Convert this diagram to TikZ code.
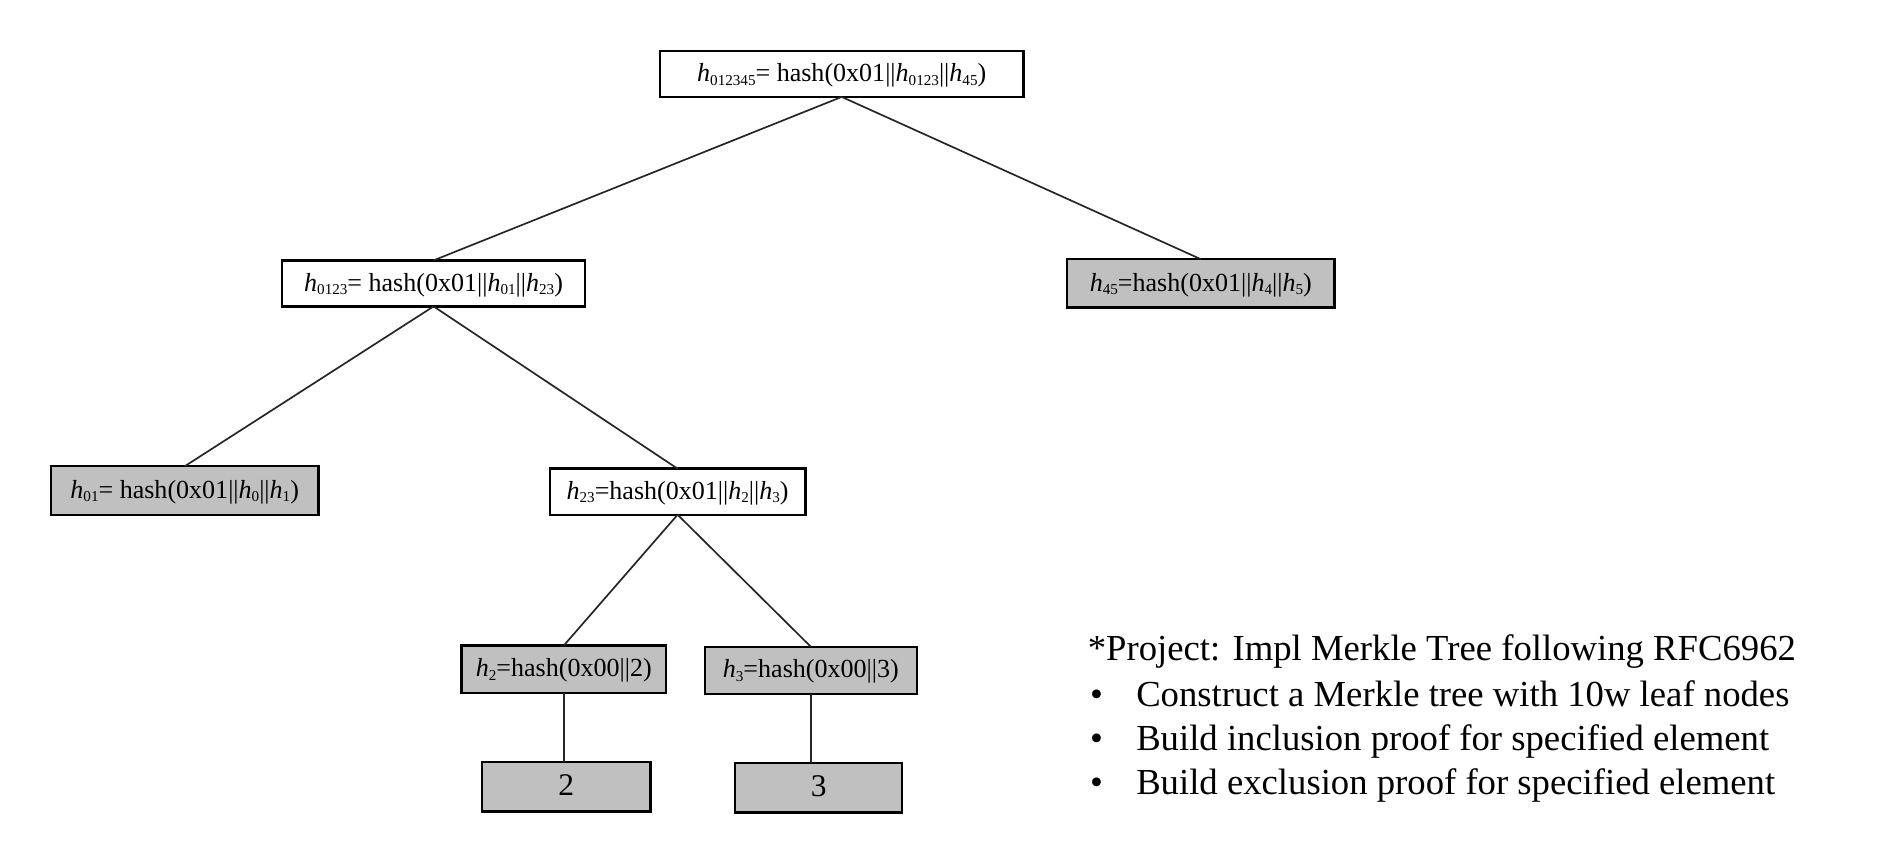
\documentclass[tikz,border=0pt]{standalone}
\usepackage{fontspec}
\setmainfont{Liberation Serif}
\newcommand\hsub[1]{\textit{h}\raisebox{-0.3ex}{\fontsize{12.5}{12.5}\selectfont #1}}
\begin{document}
\begin{tikzpicture}[x=1pt,y=-1pt,
  hbox/.style={draw=black,line width=2pt,inner sep=0pt,outer sep=0pt,
    font=\fontsize{21.5}{21.5}\selectfont,anchor=center,text depth=0.5ex},
  white/.style={hbox,fill=white},
  grey/.style={hbox,fill=boxgray},
  leafbox/.style={grey,font=\fontsize{26}{26}\selectfont},
  edge/.style={line width=1.4pt,draw=black!85},
  txt/.style={anchor=base west,inner sep=0pt,font=\fontsize{30.3}{30.3}\selectfont}]
\definecolor{boxgray}{HTML}{C0C0C0}
\useasboundingbox (0,0) rectangle (1568,694);
\node[white,minimum width=300,minimum height=38] (root) at (695,61)
  {\hsub{012345}= hash(0x01||\hsub{0123}||\hsub{45})};
\node[white,minimum width=250,minimum height=38] (h0123) at (358,234)
  {\hsub{0123}= hash(0x01||\hsub{01}||\hsub{23})};
\node[grey,minimum width=221,minimum height=40] (h45) at (991.5,234)
  {\hsub{45}=hash(0x01||\hsub{4}||\hsub{5})};
\node[grey,minimum width=221,minimum height=40] (h01) at (152.5,405)
  {\hsub{01}= hash(0x01||\hsub{0}||\hsub{1})};
\node[white,minimum width=211,minimum height=38] (h23) at (559.5,406)
  {\hsub{23}=hash(0x01||\hsub{2}||\hsub{3})};
\node[grey,minimum width=169,minimum height=39] (h2) at (465.5,552.5)
  {\hsub{2}=hash(0x00||2)};
\node[grey,minimum width=175,minimum height=39] (h3) at (669.5,553.5)
  {\hsub{3}=hash(0x00||3)};
\node[leafbox,minimum width=139,minimum height=41] (n2) at (467.5,649.5) {2};
\node[leafbox,minimum width=138,minimum height=41] (n3) at (676,650.5) {3};
\draw[edge] (root.south) -- (h0123.north);
\draw[edge] (root.south) -- (h45.north);
\draw[edge] (h0123.south) -- (h01.north);
\draw[edge] (h0123.south) -- (h23.north);
\draw[edge] (h23.south) -- (h2.north);
\draw[edge] (h23.south) -- (h3.north);
\draw[edge] (h2.south) -- (h2.south |- n2.north);
\draw[edge] (h3.south) -- (h3.south |- n3.north);
\node[txt] (t0) at (898,545) {*Project: Impl Merkle Tree following RFC6962};
\node[txt] (b1) at (900,583) {•};
\node[txt] (t1) at (938,583) {Construct a Merkle tree with 10w leaf nodes};
\node[txt] (b2) at (900,620) {•};
\node[txt] (t2) at (938,620) {Build inclusion proof for specified element};
\node[txt] (b3) at (900,656) {•};
\node[txt] (t3) at (938,656) {Build exclusion proof for specified element};
\end{tikzpicture}
\end{document}
